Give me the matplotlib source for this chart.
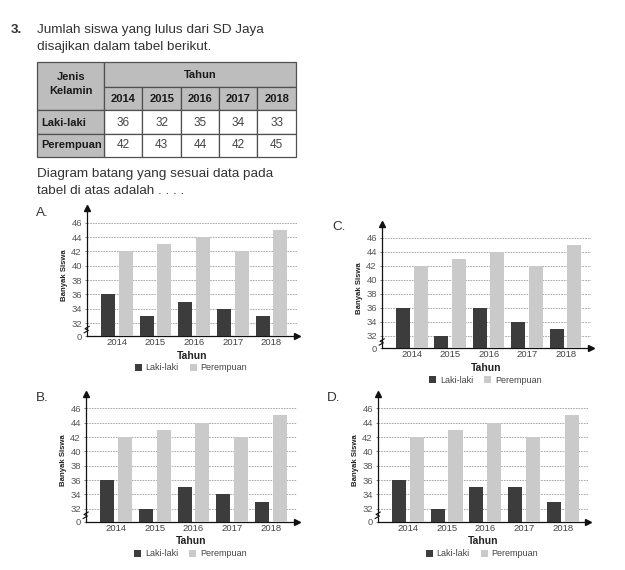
import numpy as np
import matplotlib
matplotlib.use("Agg")
from matplotlib import pyplot as plt
from matplotlib.patches import Rectangle

# data from the table
tahun = ["2014", "2015", "2016", "2017", "2018"]
laki_tabel = [36, 32, 35, 34, 33]
perempuan_tabel = [42, 43, 44, 42, 45]

# data of the four answer options
laki_A = [36, 33, 35, 34, 33]
laki_B = [36, 32, 35, 34, 33]
laki_C = [36, 32, 36, 34, 33]
laki_D = [36, 32, 35, 35, 33]
perempuan_opsi = [42, 43, 44, 42, 45]
y_ticks = [0, 32, 34, 36, 38, 40, 42, 44, 46]

W, H = 625, 570
TXT = "#333333"
NARROW = ["Liberation Sans Narrow", "Liberation Sans"]
BODY = ["Liberation Sans"]

fig = plt.figure(figsize=(W / 100, H / 100), dpi=100)
page = fig.add_axes([0, 0, 1, 1])
page.set_xlim(0, W)
page.set_ylim(H, 0)
page.axis("off")

# question text
page.text(11, 30, "3.", fontsize=9.7, fontweight="bold", color=TXT, family=BODY, va="center")
page.text(37, 30, "Jumlah siswa yang lulus dari SD Jaya", fontsize=9.7, color=TXT, family=BODY, va="center")
page.text(37, 47, "disajikan dalam tabel berikut.", fontsize=9.7, color=TXT, family=BODY, va="center")
page.text(37, 174, "Diagram batang yang sesuai data pada", fontsize=9.7, color=TXT, family=BODY, va="center")
page.text(37, 191, "tabel di atas adalah . . . .", fontsize=9.7, color=TXT, family=BODY, va="center")

# table
col_x = [37, 104.3, 142.3, 181, 219, 257.3, 296]
row_y = [61.7, 86.7, 110, 134, 156.7]
abu = "#bdbdbd"
garis = "#505050"


def sel(x0, x1, y0, y1, warna):
    page.add_patch(Rectangle((x0, y0), x1 - x0, y1 - y0, facecolor=warna,
                             edgecolor=garis, lw=0.9))


sel(col_x[0], col_x[1], row_y[0], row_y[2], abu)
sel(col_x[1], col_x[-1], row_y[0], row_y[1], abu)
for i in range(len(tahun)):
    sel(col_x[i + 1], col_x[i + 2], row_y[1], row_y[2], abu)
    sel(col_x[i + 1], col_x[i + 2], row_y[2], row_y[3], "white")
    sel(col_x[i + 1], col_x[i + 2], row_y[3], row_y[4], "white")
sel(col_x[0], col_x[1], row_y[2], row_y[3], abu)
sel(col_x[0], col_x[1], row_y[3], row_y[4], abu)

kw_b = dict(fontsize=8, fontweight="bold", color="#1a1a1a", family=BODY, va="center")
page.text((col_x[0] + col_x[1]) / 2, 76.5, "Jenis", ha="center", **kw_b)
page.text((col_x[0] + col_x[1]) / 2, 91.5, "Kelamin", ha="center", **kw_b)
page.text((col_x[1] + col_x[-1]) / 2, 75.5, "Tahun", ha="center", **kw_b)
page.text(41.5, 123, "Laki-laki", ha="left", **kw_b)
page.text(41.5, 145.5, "Perempuan", ha="left", **kw_b)
for i, t in enumerate(tahun):
    cx = (col_x[i + 1] + col_x[i + 2]) / 2
    page.text(cx, 98.5, t, ha="center", **kw_b)
    page.text(cx, 123, str(laki_tabel[i]), ha="center", va="center", fontsize=8.5,
              color="#444444", family=NARROW)
    page.text(cx, 145.5, str(perempuan_tabel[i]), ha="center", va="center", fontsize=8.5,
              color="#444444", family=NARROW)

# broken y-axis: 0..32 squeezed into a short gap
GAP = 1.8


def fwd(v):
    v = np.asarray(v, dtype=float)
    return np.where(v >= 32, v - 32 + GAP, v * GAP / 32)


def inv(p):
    p = np.asarray(p, dtype=float)
    return np.where(p >= GAP, p + 32 - GAP, p * 32 / GAP)


def diagram(huruf, laki, left, right, y0, y46, huruf_xy):
    top = y0 - (y0 - y46) * (fwd(48) / fwd(46))
    ax = fig.add_axes([left / W, 1 - y0 / H, (right - left) / W, (y0 - top) / H])
    ax.set_yscale("function", functions=(fwd, inv))
    x = np.arange(len(tahun))
    ax.bar(x - 0.229, laki, 0.363, color="#3c3c3c", label="Laki-laki", zorder=3)
    ax.bar(x + 0.229, perempuan_opsi, 0.363, color="#cacaca", label="Perempuan", zorder=3)
    ax.set_xlim(-0.78, 4.66)
    ax.set_ylim(0, 48)
    ax.set_yticks(y_ticks)
    ax.set_yticklabels([str(t) for t in y_ticks], family=NARROW, fontsize=6.8, color="#555555")
    ax.set_xticks(x)
    ax.set_xticklabels(tahun, family=NARROW, fontsize=6.8, color="#444444")
    ax.tick_params(axis="x", length=0, pad=1.5)
    ax.tick_params(axis="y", length=1.5, width=0.5, pad=2, color="#555555")
    ax.grid(axis="y", color="#9c9c9c", ls=(0, (2, 1.2)), lw=0.6)
    ax.set_axisbelow(True)
    for s in ["top", "right"]:
        ax.spines[s].set_visible(False)
    for s in ["left", "bottom"]:
        ax.spines[s].set_color("#111111")
        ax.spines[s].set_linewidth(0.9)
    ax.plot(1, 0, ">", color="#111111", ms=4, transform=ax.get_yaxis_transform(), clip_on=False)
    ax.plot(0, 1, "^", color="#111111", ms=4, transform=ax.transAxes, clip_on=False)
    # axis break mark
    ax.plot([-0.012, 0.008, -0.008, 0.012], [8, 14, 18, 24], color="#111111", lw=0.8,
            transform=ax.get_yaxis_transform(), clip_on=False, zorder=5)
    ax.set_ylabel("Banyak Siswa", family=NARROW, fontsize=5.6, fontweight="bold", color="#222222")
    ax.yaxis.set_label_coords(-19 / (right - left), 0.48)
    ax.set_xlabel("Tahun", family=BODY, fontsize=7.5, fontweight="bold", color="#222222", labelpad=2.5)
    ax.legend(loc="center", bbox_to_anchor=((left + right) / 2 - 1, y0 + 32),
              bbox_transform=page.transData, ncol=2, frameon=False,
              prop=dict(family=NARROW, size=6.5), labelcolor="#444444",
              handlelength=0.8, handleheight=0.8, handletextpad=0.4,
              columnspacing=1.2, borderpad=0)
    page.text(huruf_xy[0], huruf_xy[1], huruf, fontsize=9.7, color=TXT, family=BODY, va="center")
    return ax


diagram("A.", laki_A, 86.7, 297, 336, 222.7, (36, 213))
diagram("C.", laki_C, 381.7, 591, 348.3, 237.7, (332, 227))
diagram("B.", laki_B, 85.7, 296.7, 521.7, 408.3, (36, 398))
diagram("D.", laki_D, 377.7, 588.3, 521.7, 408.3, (327, 398))

fig.savefig("out.png", dpi=100, facecolor="white")
